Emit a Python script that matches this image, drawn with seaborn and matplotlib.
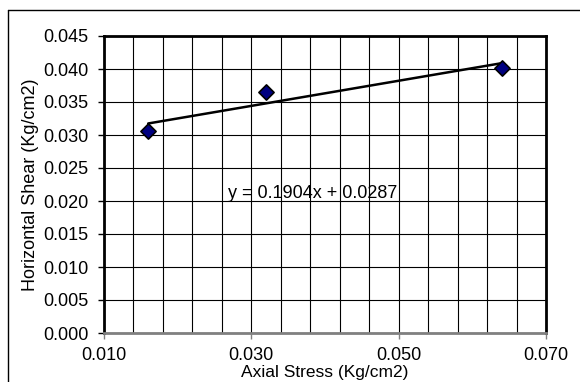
import matplotlib
matplotlib.use("Agg")
import matplotlib.pyplot as plt
import seaborn as sns
import numpy as np
import pandas as pd
from matplotlib.lines import Line2D
from matplotlib.ticker import FixedLocator

axial_stress = [0.016, 0.032, 0.064]
horizontal_shear = [0.0306, 0.0365, 0.0402]
slope = 0.1904
intercept = 0.0287
x_ticks = [0.010, 0.030, 0.050, 0.070]
x_tick_labels = ["0.010", "0.030", "0.050", "0.070"]
y_ticks = [0.000, 0.005, 0.010, 0.015, 0.020, 0.025, 0.030, 0.035, 0.040, 0.045]
y_tick_labels = ["%.3f" % v for v in y_ticks]
equation = "y = 0.1904x + 0.0287"

sns.set_theme(style="white")
plt.rcParams['font.family'] = ['Liberation Sans', 'DejaVu Sans']

df = pd.DataFrame({"x": axial_stress, "y": horizontal_shear})

FS = 13
fig = plt.figure(figsize=(5.8, 3.82), dpi=100)
W, H = 580, 382
ax = fig.add_axes([104 / W, 1 - 333 / H, (546 - 104) / W, (333 - 36) / H])

# trendline
xs = np.array([min(axial_stress), max(axial_stress)])
sns.lineplot(x=xs, y=slope * xs + intercept, ax=ax, color="black", linewidth=1.8, zorder=3)
sns.scatterplot(data=df, x="x", y="y", ax=ax, marker="D", s=60, color="#000080",
                edgecolor="black", linewidth=1.2, zorder=4)

ax.set_xlim(0.010, 0.070)
ax.set_ylim(0.000, 0.045)
ax.xaxis.set_major_locator(FixedLocator(x_ticks))
ax.set_xticklabels(x_tick_labels)
ax.xaxis.set_minor_locator(FixedLocator(np.linspace(0.010, 0.070, 16)))
ax.yaxis.set_major_locator(FixedLocator(y_ticks))
ax.set_yticklabels(y_tick_labels)

ax.grid(True, which="both", axis="x", color="black", linewidth=0.8)
ax.grid(True, which="major", axis="y", color="black", linewidth=0.8)
ax.set_axisbelow(True)

ax.tick_params(axis="both", which="major", labelsize=FS, colors="black", length=4,
               width=1, direction="out", bottom=True, left=True)
ax.tick_params(axis="x", which="major", color="#808080", pad=6)
ax.tick_params(axis="x", which="minor", length=0)
ax.tick_params(axis="y", pad=7)

for side in ["left", "top", "right"]:
    ax.spines[side].set_color("black")
    ax.spines[side].set_linewidth(2)
ax.spines["bottom"].set_color("#808080")
ax.spines["bottom"].set_linewidth(2)

ax.set_xlabel("Axial Stress (Kg/cm2)", fontsize=12.5, color="black")
ax.xaxis.set_label_coords(0.5, (333 - 372) / (333 - 36))
ax.xaxis.label.set_va("center")
ax.set_ylabel("Horizontal Shear (Kg/cm2)", fontsize=FS, color="black", labelpad=3)

ax.text(0.0269, 0.0212, equation, fontsize=FS, color="black", va="center", ha="left", zorder=5)

# outer chart border (only top and left visible)
fig.add_artist(Line2D([7.5 / W, 1.0], [1 - 9.5 / H, 1 - 9.5 / H], color="black", linewidth=1,
                      transform=fig.transFigure))
fig.add_artist(Line2D([7.5 / W, 7.5 / W], [0.0, 1 - 9.5 / H], color="black", linewidth=1,
                      transform=fig.transFigure))

fig.savefig("out.png", dpi=100)
